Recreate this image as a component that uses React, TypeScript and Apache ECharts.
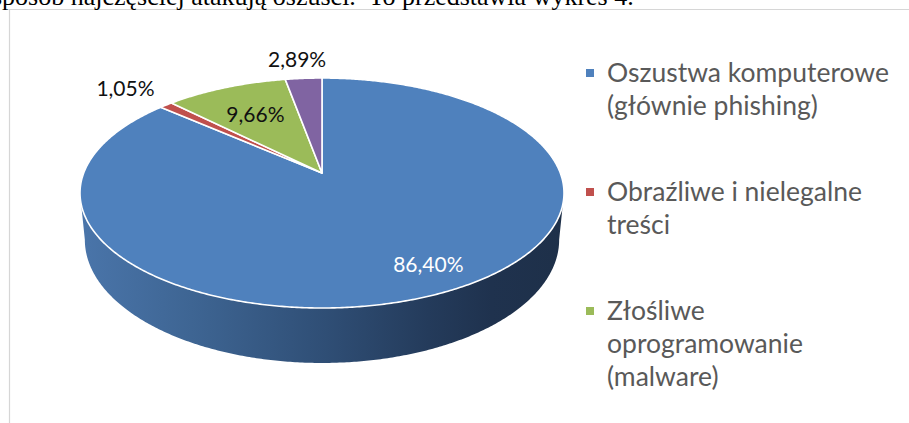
import React, { useEffect, useRef } from "react";
import * as echarts from "echarts";

// ---------- data ----------
const categories = [
  "Oszustwa komputerowe (głównie phishing)",
  "Obraźliwe i nielegalne treści",
  "Złośliwe oprogramowanie (malware)",
  "Inne",
];
const legendLines = [
  ["Oszustwa komputerowe", "(głównie phishing)"],
  ["Obraźliwe i nielegalne", "treści"],
  ["Złośliwe", "oprogramowanie", "(malware)"],
  ["Inne"],
];
const values = [86.4, 1.05, 9.66, 2.89];
const caption = "sposób najczęściej atakują oszuści.  To przedstawia wykres 4.";

// ---------- styles / geometry ----------
const colors = ["#4f81bd", "#c0504d", "#9bbb59", "#8064a2"];
const labelRadius = [0.81, 1.3, 0.66, 1.26];
const labelAngleShift = [-4.4, 0, 0, -0.6]; // degrees
const labelColors = ["#ffffff", "#111111", "#111111", "#111111"];

const W = 909;
const H = 423;
const CX = 322;
const CY = 173;
const RA = 238.3;
const RB = 111.5;
const K = 0.174;
const DEPTH = 45.4;
const BOTTOM_SCALE = 0.98;
const FONT = "Lato, 'Open Sans', sans-serif";

const total = values.reduce((a, b) => a + b, 0);
const starts: number[] = [];
values.reduce((acc, v, i) => {
  starts[i] = acc;
  return acc + v;
}, 0);

function proj(theta: number, rho: number) {
  const u = rho * Math.sin(theta);
  const v = -rho * Math.cos(theta);
  const w = 1 - K * v;
  return { x: CX + (RA * u) / w, y: CY + (RB * v) / w, w };
}
function bottom(theta: number) {
  const p = proj(theta, 1);
  return [CX + BOTTOM_SCALE * (p.x - CX), p.y + DEPTH / p.w];
}

const fmt = (v: number) => v.toFixed(2).replace(".", ",") + "%";

export default function App() {
  const ref = useRef<HTMLDivElement>(null);

  useEffect(() => {
    if (!ref.current) return;
    const chart = echarts.init(ref.current, undefined, { renderer: "svg" });

    const thetaR = Math.acos(-K);
    const thetaL = 2 * Math.PI - thetaR;
    const xMin = CX - RA / Math.sqrt(1 - K * K);
    const xMax = CX + RA / Math.sqrt(1 - K * K);
    const sideGradient = new echarts.graphic.LinearGradient(
      xMin,
      0,
      xMax,
      0,
      [
        { offset: 0, color: "#4a75aa" },
        { offset: 0.23, color: "#3e6593" },
        { offset: 0.51, color: "#2f4e75" },
        { offset: 0.72, color: "#243b5b" },
        { offset: 0.85, color: "#1f324e" },
        { offset: 1, color: "#1e3049" },
      ],
      true
    );

    const renderItem = (params: any, api: any) => {
      const i = params.dataIndex;
      const val = api.value(1);
      const st = api.value(2);
      const a0 = (st / total) * 2 * Math.PI;
      const a1 = ((st + val) / total) * 2 * Math.PI;
      const step = Math.PI / 360;
      const children: any[] = [];

      // side (front, visible part)
      const s = Math.max(a0, thetaR);
      const e = Math.min(a1, thetaL);
      if (e > s) {
        const pts: number[][] = [];
        for (let t = s; t < e; t += step) {
          const p = proj(t, 1);
          pts.push([p.x, p.y]);
        }
        const pe = proj(e, 1);
        pts.push([pe.x, pe.y]);
        pts.push(bottom(e));
        for (let t = e; t > s; t -= step) pts.push(bottom(t));
        pts.push(bottom(s));
        children.push({
          type: "polygon",
          shape: { points: pts },
          style: { fill: sideGradient, stroke: "none" },
          z2: 1,
        });
      }

      // top face
      const top: number[][] = [[CX, CY]];
      for (let t = a0; t < a1; t += step) {
        const p = proj(t, 1);
        top.push([p.x, p.y]);
      }
      const pEnd = proj(a1, 1);
      top.push([pEnd.x, pEnd.y]);
      children.push({
        type: "polygon",
        shape: { points: top },
        style: { fill: colors[i], stroke: "#ffffff", lineWidth: 1.6, lineJoin: "round" },
        z2: 2,
      });

      // label
      const mid = (a0 + a1) / 2 + (labelAngleShift[i] * Math.PI) / 180;
      const lp = proj(mid, labelRadius[i]);
      children.push({
        type: "text",
        x: lp.x,
        y: lp.y,
        style: {
          text: fmt(val),
          fill: labelColors[i],
          fontSize: 21,
          fontFamily: FONT,
          align: "center",
          verticalAlign: "middle",
        },
        z2: 10,
      });

      return { type: "group", children };
    };

    // legend as graphic elements
    const legendGraphics: any[] = [];
    const LINE_H = 33;
    const ITEM_GAP = 53;
    const LEG_FS = 26.5;
    let baseline = 82;
    legendLines.forEach((lines, i) => {
      if (baseline - LEG_FS > H) return;
      legendGraphics.push({
        type: "rect",
        shape: { x: 586, y: baseline - 13, width: 8, height: 8 },
        style: { fill: colors[i] },
      });
      lines.forEach((ln, j) => {
        const b = baseline + j * LINE_H;
        if (b - LEG_FS > H) return;
        legendGraphics.push({
          type: "text",
          x: 607,
          y: b - 0.387 * LEG_FS,
          style: {
            text: ln,
            fill: "#595959",
            fontSize: LEG_FS,
            fontFamily: FONT,
            align: "left",
            verticalAlign: "middle",
          },
        });
      });
      baseline += lines.length * LINE_H + ITEM_GAP;
    });

    chart.setOption({
      animation: false,
      backgroundColor: "#ffffff",
      graphic: [
        {
          type: "rect",
          z: -10,
          shape: { x: 9.5, y: 9.5, width: 1000, height: 1000 },
          style: { fill: "#ffffff", stroke: "#d6d6d6", lineWidth: 1.2 },
          silent: true,
        },
        {
          type: "text",
          x: -8,
          y: 5 - 0.3375 * 26,
          style: {
            text: caption,
            fill: "#000000",
            fontSize: 26,
            fontFamily: "'Liberation Serif', 'Times New Roman', serif",
            align: "left",
            verticalAlign: "middle",
          },
        },
        ...legendGraphics,
      ],
      series: [
        {
          type: "custom",
          name: "Zagrożenia",
          coordinateSystem: "none",
          renderItem,
          data: values.map((v, i) => ({ name: categories[i], value: [i, v, starts[i]] })),
        },
      ],
    });

    return () => chart.dispose();
  }, []);

  return <div ref={ref} style={{ position: "absolute", left: 0, top: 0, width: W, height: H }} />;
}
